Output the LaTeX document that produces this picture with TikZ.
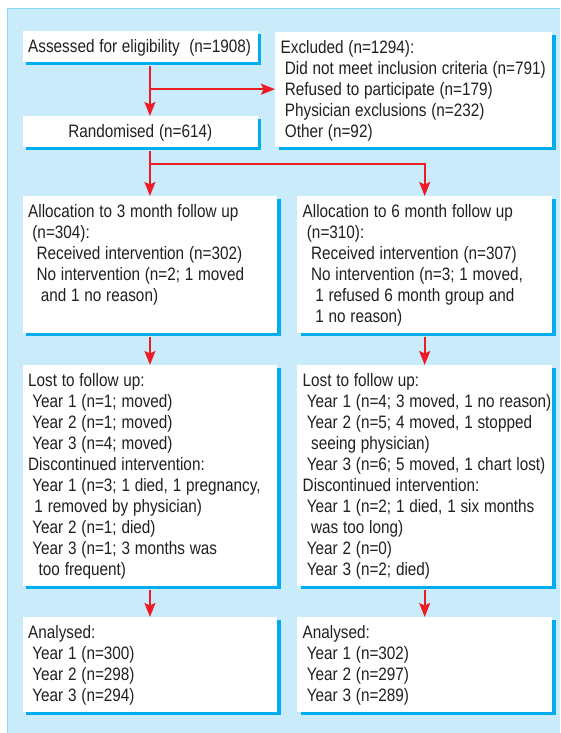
\documentclass[tikz,border=0pt]{standalone}
\usepackage{fontspec}
\setmainfont{Liberation Sans}[FakeStretch=0.85]
\usetikzlibrary{arrows.meta, calc, shadows, positioning}
\definecolor{flowred}{RGB}{237,28,36}
\definecolor{shadecyan}{RGB}{0,174,239}
\definecolor{panelblue}{RGB}{202,235,250}
\definecolor{inkgrey}{RGB}{35,31,32}
\newlength\spw
\setlength\spw{4.2pt}
\newcommand{\indt}[1]{\hspace*{#1\spw}}
\tikzset{
    flow/.style = {draw=flowred, line width=1.8pt, -{Stealth[length=14pt, width=11pt, inset=2.5pt]}},
    from box/.style = {shorten <=3.5pt},
    box/.style = {anchor=north west, fill=white, inner sep=0pt,
        align=left, text height=21.5pt, text=inkgrey,
        font=\fontsize{18}{21}\selectfont,
        execute at begin node={\leftskip=5.5pt\rightskip=0pt plus 2em minus 30pt
            \spaceskip=4.8pt plus 1pt minus 0.5pt\hyphenpenalty=10000\exhyphenpenalty=10000},
        drop shadow={shadow xshift=3.5pt, shadow yshift=-3pt, fill=shadecyan, opacity=1}}
}
\begin{document}
\begin{tikzpicture}[x=1pt, y=-1pt]
  \useasboundingbox (0,0) rectangle (560,733);
  \fill[panelblue] (7.5,8.3) rectangle (560,733);
  \draw[shadecyan!45, line width=0.8pt] (7.5,733) |- (560,8.3);

  % screening
  \node[box, text width=235.2pt, text depth=9.5pt] (b1) at (22.5,31)
    {Assessed for eligibility~~(n=1908)};
  \node[box, text width=277pt, text depth=93.7pt] (b2) at (275,32)
    {Excluded (n=1294):\\
     \indt{1}Did not meet inclusion criteria (n=791)\\
     \indt{1}Refused to participate (n=179)\\
     \indt{1}Physician exclusions (n=232)\\
     \indt{1}Other (n=92)};
  \node[box, align=center, text width=235.2pt, text depth=9.5pt,
        execute at begin node={\leftskip=0pt plus 1fil\rightskip=0pt plus 1fil}] (b3) at (22.5,116)
    {Randomised (n=614)};

  % allocation
  \node[box, text width=254.5pt, text depth=115.5pt] (a1) at (22.5,196)
    {Allocation to 3 month follow up\\
     \indt{1}(n=304):\\
     \indt{2}Received intervention (n=302)\\
     \indt{2}No intervention (n=2; 1 moved\\
     \indt{3}and 1 no reason)};
  \node[box, text width=255pt, text depth=115.5pt] (a2) at (297,196)
    {Allocation to 6 month follow up\\
     \indt{1}(n=310):\\
     \indt{2}Received intervention (n=307)\\
     \indt{2}No intervention (n=3; 1 moved,\\
     \indt{3}1 refused 6 month group and\\
     \indt{3}1 no reason)};

  % follow up
  \node[box, text width=254.5pt, text depth=199.5pt] (l1) at (22.5,365)
    {Lost to follow up:\\
     \indt{1}Year 1 (n=1; moved)\\
     \indt{1}Year 2 (n=1; moved)\\
     \indt{1}Year 3 (n=4; moved)\\
     Discontinued intervention:\\
     \indt{1}Year 1 (n=3; 1 died, 1 pregnancy,\\
     \indt{1.5}1 removed by physician)\\
     \indt{1}Year 2 (n=1; died)\\
     \indt{1}Year 3 (n=1; 3 months was\\
     \indt{2.5}too frequent)};
  \node[box, text width=255pt, text depth=199.5pt] (l2) at (297,365)
    {Lost to follow up:\\
     \indt{1}Year 1 (n=4; 3 moved, 1 no reason)\\
     \indt{1}Year 2 (n=5; 4 moved, 1 stopped\\
     \indt{2}seeing physician)\\
     \indt{1}Year 3 (n=6; 5 moved, 1 chart lost)\\
     Discontinued intervention:\\
     \indt{1}Year 1 (n=2; 1 died, 1 six months\\
     \indt{2}was too long)\\
     \indt{1}Year 2 (n=0)\\
     \indt{1}Year 3 (n=2; died)};

  % analysis
  \node[box, text width=254.5pt, text depth=73.5pt] (n1) at (22.5,617)
    {Analysed:\\
     \indt{1}Year 1 (n=300)\\
     \indt{1}Year 2 (n=298)\\
     \indt{1}Year 3 (n=294)};
  \node[box, text width=255pt, text depth=73.5pt] (n2) at (297,617)
    {Analysed:\\
     \indt{1}Year 1 (n=302)\\
     \indt{1}Year 2 (n=297)\\
     \indt{1}Year 3 (n=289)};

  \coordinate (excl) at ($(b1.south -| a1.north)!0.5!(b3.north -| a1.north)$);
  \coordinate (split) at ($(b3.south -| a1.north)+(0,16.5)$);

  \draw[flow, from box] (b1.south -| a1.north) -- (b3.north -| a1.north);
  \draw[flow] (excl) -- (excl -| b2.west);
  \draw[flow, from box] (b3.south -| a1.north) -- (a1.north);
  \draw[flow] (split) -| (a2.north);
  \draw[flow, from box] (a1.south) -- (l1.north);
  \draw[flow, from box] (a2.south) -- (l2.north);
  \draw[flow, from box] (l1.south) -- (n1.north);
  \draw[flow, from box] (l2.south) -- (n2.north);
\end{tikzpicture}
\end{document}
